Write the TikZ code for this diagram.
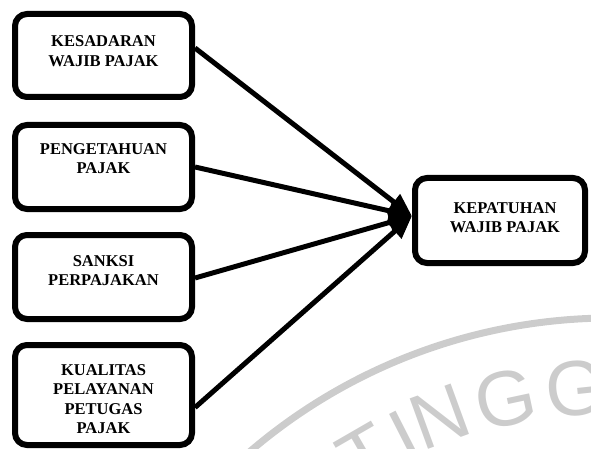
\documentclass[tikz,border=0pt]{standalone}
\usepackage{fontspec}
\setmainfont{Liberation Serif}
\newfontfamily\wmfont{Liberation Sans}
\usetikzlibrary{arrows.meta,calc}
\begin{document}
\begin{tikzpicture}[x=1pt,y=1pt,
  box/.style={draw=black, line width=6pt, rounded corners=12pt, fill=white, inner sep=0pt},
  lbl/.style={font=\bfseries\fontsize{16.5}{19.5}\selectfont, align=center, inner sep=0pt, anchor=north},
  link/.style={line width=5pt, -{Triangle[length=23pt,width=19pt]}},
  wm/.style={text=black!20, font=\wmfont\fontsize{78}{78}\selectfont, inner sep=0pt}]
\useasboundingbox (0,0) rectangle (591,-449);
% watermark
\begin{scope}
  \clip (0,0) rectangle (591,-449);
  \draw[black!20, line width=7pt] (611,-873) ++(131:555pt) arc[start angle=131,end angle=85,radius=555pt];
  \node[wm, rotate=30] (wT) at (366,-455) {T};
  \node[wm, rotate=27] (wI) at (405,-437) {I};
  \node[wm, rotate=20] (wN) at (440,-417) {N};
  \node[wm, rotate=12] (wG1) at (506,-399) {G};
  \node[wm, rotate=6] (wG2) at (576,-389) {G};
\end{scope}
% boxes
\node[box, minimum width=177pt, minimum height=83pt] (b1) at (103.5,-55.5) {};
\node[box, minimum width=177pt, minimum height=84pt] (b2) at (103.5,-167) {};
\node[box, minimum width=177pt, minimum height=84pt] (b3) at (103.5,-277) {};
\node[box, minimum width=177pt, minimum height=100pt] (b4) at (103.5,-395) {};
\node[box, minimum width=170pt, minimum height=85pt] (k) at (500,-220.5) {};
% labels
\node[lbl] (t1) at (103.5,-35.5) {KESADARAN\\WAJIB PAJAK};
\node[lbl] (t2) at (103.5,-143) {PENGETAHUAN\\PAJAK};
\node[lbl] (t3) at (103.5,-255) {SANKSI\\PERPAJAKAN};
\node[lbl] (t4) at (103.5,-364) {KUALITAS\\PELAYANAN\\PETUGAS\\PAJAK};
\node[lbl] (tk) at (505,-202) {KEPATUHAN\\WAJIB PAJAK};
% connectors
\coordinate (tip) at ([yshift=4.5pt]k.west);
\draw[link] ([yshift=7.5pt]b1.east) -- (tip);
\draw[link] (b2.east) -- (tip);
\draw[link] ([yshift=-1pt]b3.east) -- (tip);
\draw[link] ([yshift=-12.5pt]b4.east) -- (tip);
\end{tikzpicture}
\end{document}
